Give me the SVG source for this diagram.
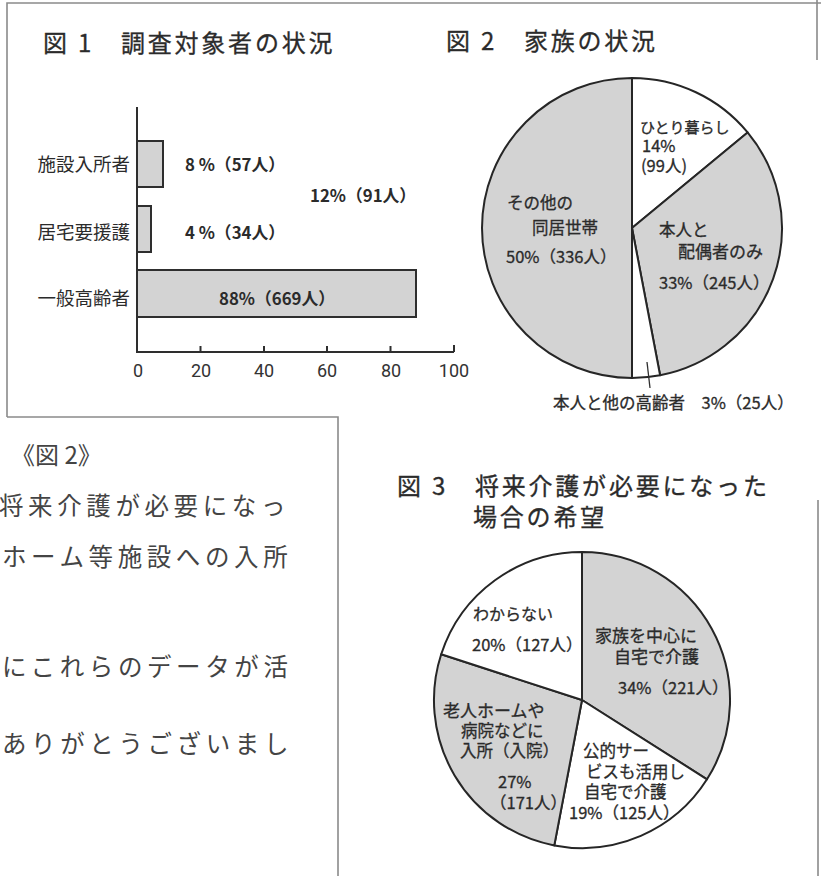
<svg xmlns="http://www.w3.org/2000/svg" width="821" height="876" viewBox="0 0 821 876">
<defs>
<style>
.t{font-family:"Noto Sans CJK JP","Noto Sans",sans-serif;fill:#2b2b2b}
.title{font-size:24px;letter-spacing:2.8px;stroke:#2b2b2b;stroke-width:0.3px}
.lab{font-size:18.5px}
.val{font-size:16.8px;font-weight:bold}
.pl{font-size:16.5px;stroke:#2b2b2b;stroke-width:0.3px}
.ax{font-family:Roboto,"Liberation Sans",sans-serif;font-size:18px;fill:#333;text-anchor:middle}
.body{font-family:"Noto Sans CJK JP",sans-serif;font-size:24.5px;fill:#444;letter-spacing:4.6px}
.frame{stroke:#8a8a8a;stroke-width:1.6;fill:none}
.bar{fill:#d3d3d3;stroke:#2e2e2e;stroke-width:2}
.g{fill:#d3d3d3;stroke:#262626;stroke-width:2;stroke-linejoin:round}
.w{fill:#ffffff;stroke:#262626;stroke-width:2;stroke-linejoin:round}
.axis{stroke:#2e2e2e;stroke-width:2;fill:none}
</style>
</defs>
<rect width="821" height="876" fill="#ffffff"/>

<g id="frames">
<path class="frame" d="M7,417 V3 H821"/>
<path class="frame" d="M7,417 H338 V876"/>
<path class="frame" d="M817,0 V60"/>
<path class="frame" d="M818,500 V876"/>
</g>

<g id="fig1">
<text class="t title" x="43" y="52">図 1　調査対象者の状況</text>
<path class="axis" d="M137,107 V352 H454"/>
<path class="axis" d="M200.5,352 V346 M264,352 V346 M327,352 V346 M390.5,352 V346 M454,352 V345"/>
<rect class="bar" x="137" y="141" width="26" height="46"/>
<rect class="bar" x="137" y="206" width="14" height="46"/>
<rect class="bar" x="137" y="270" width="279" height="47"/>
<text class="t lab" x="130" y="171" text-anchor="end">施設入所者</text>
<text class="t lab" x="130" y="239" text-anchor="end">居宅要援護</text>
<text class="t lab" x="130" y="305" text-anchor="end">一般高齢者</text>
<text class="t val" x="185" y="171">8 %（57人）</text>
<text class="t val" x="310" y="202">12%（91人）</text>
<text class="t val" x="185" y="239">4 %（34人）</text>
<text class="t val" x="219" y="305">88%（669人）</text>
<text class="ax" x="138" y="377">0</text>
<text class="ax" x="201" y="377">20</text>
<text class="ax" x="264" y="377">40</text>
<text class="ax" x="327" y="377">60</text>
<text class="ax" x="391" y="377">80</text>
<text class="ax" x="454" y="377">100</text>
</g>

<g id="fig2">
<text class="t title" x="446" y="50">図 2　家族の状況</text>
<path class="g" d="M632,228 L632,378 A150,150 0 0 1 632,78 Z"/>
<path class="w" d="M632,228 L632,78 A150,150 0 0 1 747.6,132.4 Z"/>
<path class="g" d="M632,228 L747.6,132.4 A150,150 0 0 1 660.1,375.3 Z"/>
<path class="w" d="M632,228 L660.1,375.3 A150,150 0 0 1 632,378 Z"/>
<path d="M647,362 L650,388" stroke="#2e2e2e" stroke-width="1.3"/>
<text class="t pl"><tspan x="640" y="133" style="font-size:15px">ひとり暮らし</tspan><tspan x="642" y="152">14%</tspan><tspan x="641" y="172">(99人)</tspan></text>
<text class="t pl"><tspan x="507" y="209">その他の</tspan><tspan x="532" y="234">同居世帯</tspan><tspan x="506" y="263">50%（336人）</tspan></text>
<text class="t pl"><tspan x="659" y="236">本人と</tspan><tspan x="678" y="258" style="font-size:17px">配偶者のみ</tspan><tspan x="659" y="289">33%（245人）</tspan></text>
<text class="t pl" x="553" y="409">本人と他の高齢者　3%（25人）</text>
</g>

<g id="letter">
<text class="t" x="11" y="464" style="font-size:24px;fill:#444">《図 2》</text>
<text class="body" x="-1" y="515">将来介護が必要になっ</text>
<text class="body" x="2" y="566">ホーム等施設への入所</text>
<text class="body" x="2" y="676">にこれらのデータが活</text>
<text class="body" x="2" y="753">ありがとうございまし</text>
</g>

<g id="fig3">
<text class="t title"><tspan x="397" y="495">図 3　将来介護が必要になった</tspan><tspan x="473" y="526">場合の希望</tspan></text>
<path class="g" d="M582,700 L582,552 A148,148 0 0 1 707,779.3 Z"/>
<path class="w" d="M582,700 L707,779.3 A148,148 0 0 1 554.3,845.4 Z"/>
<path class="g" d="M582,700 L554.3,845.4 A148,148 0 0 1 441.2,654.3 Z"/>
<path class="w" d="M582,700 L441.2,654.3 A148,148 0 0 1 582,552 Z"/>
<text class="t pl"><tspan x="473" y="620" style="font-size:16px">わからない</tspan><tspan x="472" y="651">20%（127人）</tspan></text>
<text class="t pl"><tspan x="595" y="642" style="font-size:17px">家族を中心に</tspan><tspan x="614" y="663" style="font-size:17px">自宅で介護</tspan><tspan x="618" y="694">34%（221人）</tspan></text>
<text class="t pl"><tspan x="443" y="717" style="font-size:17px">老人ホームや</tspan><tspan x="461" y="737">病院などに</tspan><tspan x="460" y="757">入所（入院）</tspan><tspan x="498" y="788">27%</tspan><tspan x="490" y="809">（171人）</tspan></text>
<text class="t pl"><tspan x="583" y="757">公的サー</tspan><tspan x="586" y="778">ビスも活用し</tspan><tspan x="584" y="798">自宅で介護</tspan><tspan x="569" y="819">19%（125人）</tspan></text>
</g>
</svg>
